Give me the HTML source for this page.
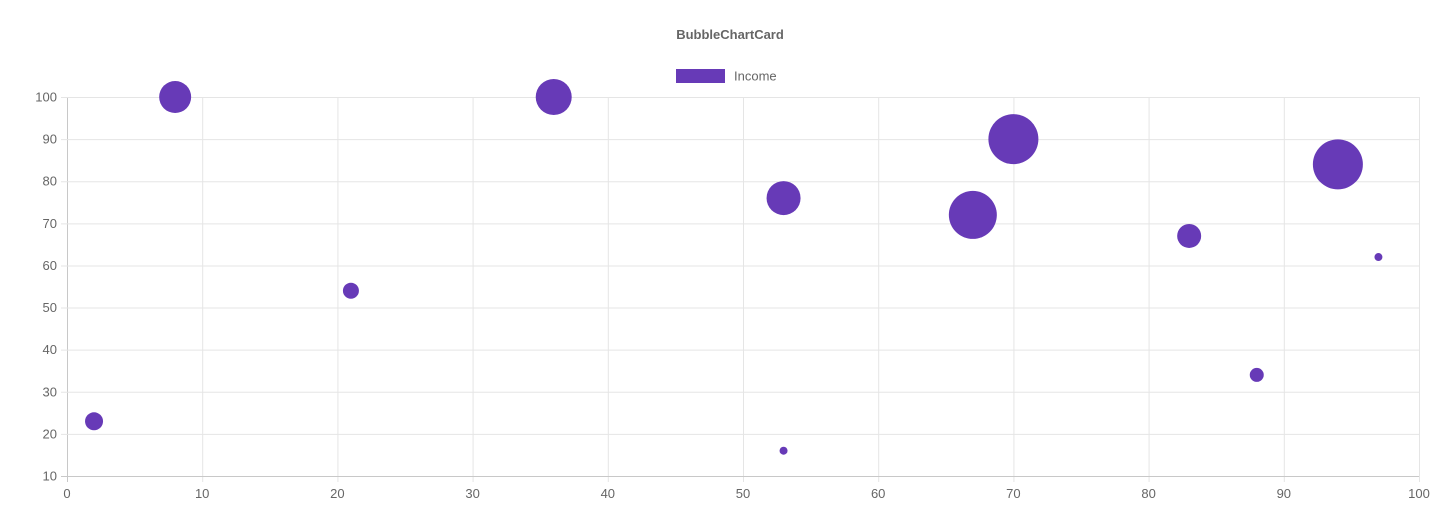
<!DOCTYPE html>
<html><head><meta charset="utf-8"><style>
body{margin:0;background:#fff;}
svg text{font-family:"Liberation Sans",Arial,sans-serif;fill:#666;}
</style></head><body>
<svg id="chart" width="1447" height="523" xmlns="http://www.w3.org/2000/svg">
<text x="730" y="39" text-anchor="middle" font-size="13" font-weight="bold">BubbleChartCard</text>
<g>
<rect x="676" y="69" width="49" height="14" fill="#673ab7"/>
<text x="734" y="80.5" font-size="13">Income</text>
</g>
<g id="grid"></g><g id="ticks"></g><g id="marks"></g>
</svg>
<script>
const xs=[2,8,21,36,53,53,67,70,83,88,94,97];
const ys=[23,100,54,100,16,76,72,90,67,34,84,62];
const rs=[9,16,8,18,4,17,24,25,12,7,25,4];
const xTicks=[0,10,20,30,40,50,60,70,80,90,100];
const yTicks=[10,20,30,40,50,60,70,80,90,100];
const X0=67,X1=1419,Y0=476,Y1=97;
const xScale=v=>X0+(v-0)/100*(X1-X0);
const yScale=v=>Y0-(v-10)/90*(Y0-Y1);
const NS="http://www.w3.org/2000/svg";
const grid=document.getElementById('grid'),ticks=document.getElementById('ticks'),marks=document.getElementById('marks');
function mk(tag,attrs,parent){const e=document.createElementNS(NS,tag);for(const k in attrs)e.setAttribute(k,attrs[k]);parent.appendChild(e);return e;}
xTicks.forEach(t=>{
 const x=xScale(t)+0.5;
 const l=mk('line',{x1:x,x2:x,y1:Y1,y2:Y0+6,stroke:t===0?'#c8c8c8':'#e5e5e5'},grid);
 
 
 const tx=mk('text',{x:xScale(t),y:Y0+22,'text-anchor':'middle','font-size':13},ticks);
 tx.textContent=t;
 
 
});
yTicks.forEach(t=>{
 const y=yScale(t)+0.5;
 const l=mk('line',{x1:X0-6,x2:X1,y1:y,y2:y,stroke:t===10?'#c8c8c8':'#e5e5e5'},grid);
 
 
 const tx=mk('text',{x:X0-10,y:yScale(t)+4.5,'text-anchor':'end','font-size':13},ticks);
 tx.textContent=t;
 
 
});
xs.forEach((v,i)=>{
 const c=mk('circle',{cx:xScale(v),cy:yScale(ys[i]),r:rs[i],fill:'#673ab7'},marks);
 
 
});
</script>
</body></html>
